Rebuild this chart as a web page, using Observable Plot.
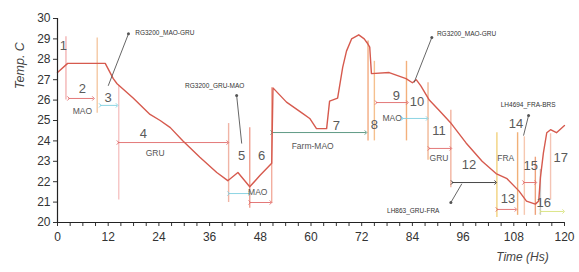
<!DOCTYPE html>
<html><head><meta charset="utf-8">
<script src="https://cdn.jsdelivr.net/npm/d3@7"></script>
<script src="https://cdn.jsdelivr.net/npm/@observablehq/plot@0.6"></script>
<style>body{margin:0;background:#fff} svg{display:block}</style>
</head><body><div id="chart"></div>
<script>
// Temperature trace (hours, °C)
const timeH = [0, 2.4, 11.3, 13.2, 14.1, 17.9, 21.9, 24.3, 26.7, 29.7, 33.7, 37.7, 40.3, 42.7, 45.5, 47.9, 50.7, 51.0, 54.2, 58, 59.7, 61.3, 63.7, 64.4, 66.3, 67.5, 68.4, 69.6, 71.3, 72.6, 73.3, 73.9, 74.3, 78.5, 82.5, 84, 84.9, 86, 88, 90.3, 93.2, 96.7, 100.5, 103.8, 106.4, 109.2, 111, 113.1, 113.9, 114.3, 115, 115.8, 116.7, 118.1, 120];
const tempC = [27.35, 27.8, 27.8, 27.05, 26.8, 26.1, 25.3, 25.0, 24.65, 24.0, 23.2, 22.45, 22.05, 22.45, 21.75, 22.3, 22.9, 26.6, 25.9, 25.35, 25.1, 24.6, 24.6, 25.95, 26.1, 27.6, 28.4, 29.0, 29.2, 29.0, 28.8, 28.6, 27.3, 27.35, 27.05, 26.85, 27.0, 26.7, 26.0, 25.5, 24.85, 23.9, 23.0, 22.4, 22.15, 21.55, 21.05, 20.9, 21.05, 22.2, 23.4, 24.4, 24.55, 24.4, 24.75];

// Segment boundaries (hours) and their vertical extent (°C)
const boundT   = [2.0, 9.4, 14.5, 40.5, 45.5, 50.7, 73.5, 75.0, 82.6, 87.7, 93.1, 104.0, 108.9, 110.5, 113.1, 114.3, 116.7];
const boundTop = [29.1, 29.05, 26.7, 24.85, 24.65, 26.6, 28.9, 27.9, 27.9, 26.85, 25.5, 24.4, 24.4, 24.2, 23.2, 22.6, 24.35];
const boundBot = [26.0, 25.35, 21.1, 20.98, 20.7, 20.93, 24.0, 24.0, 24.0, 23.05, 21.7, 20.25, 20.35, 20.35, 20.35, 20.35, 21.1];

// Segment numbers
const segLabel = ["1","2","3","4","5","6","7","8","9","10","11","12","13","14","15","16","17"];
const segT     = [1.4, 5.9, 12.0, 20.3, 43.6, 48.3, 66.0, 75.0, 80.2, 85.1, 90.3, 97.4, 106.6, 108.5, 112.0, 115.1, 119.1];
const segY     = [28.68, 26.57, 26.13, 24.36, 23.28, 23.28, 24.75, 24.8, 26.23, 25.93, 24.5, 22.84, 21.18, 24.85, 22.8, 20.98, 23.19];

// Location tags
const tagText = ["MAO", "GRU", "MAO", "Farm-MAO", "MAO", "GRU", "FRA"];
const tagT    = [5.9, 23.1, 47.4, 60.4, 79.2, 90.3, 106.1];
const tagY    = [25.44, 23.38, 21.47, 23.73, 25.1, 23.14, 23.14];

// Duration arrows
const arrowT1 = [2.6, 10.1, 14.3, 40.5, 45.5, 50.7, 75.4, 81.6, 87.9, 93.4, 104.0, 110.3, 114.3];
const arrowT2 = [8.5, 14.1, 40.3, 45.5, 50.5, 73.0, 82.8, 87.5, 93.1, 103.7, 108.5, 113.2, 119.8];
const arrowY  = [26.08, 25.74, 23.92, 21.42, 20.98, 24.41, 25.88, 25.1, 23.63, 21.96, 20.64, 21.96, 20.54];
const arrowKind = ["r","c","r","c","r","g","r","c","r","k","r","r","y"];

// Flight annotations
const flightText = ["RG3200_MAO-GRU", "RG3200_GRU-MAO", "RG3200_MAO-GRU", "LH863_GRU-FRA", "LH4694_FRA-BRS"];
const flightTextT = [18.4, 30.2, 89.8, 78.0, 104.9];
const flightTextY = [29.3, 26.72, 29.26, 20.59, 25.74];
const leadT1 = [16.8, 42.4, 88.6, 93.1, 111.5];
const leadY1 = [29.25, 26.23, 29.07, 20.98, 25.25];
const leadT2 = [12.0, 43.6, 84.4, 95.7, 110.3];
const leadY2 = [26.7, 23.87, 26.86, 21.9, 24.26];

// ---------- build tables ----------
const trace = timeH.map((t, i) => ({t, v: tempC[i]}));
const bounds = boundT.map((t, i) => ({t, y1: boundBot[i], y2: boundTop[i], i}));
const segs = segLabel.map((s, i) => ({s, t: segT[i], v: segY[i]}));
const tags = tagText.map((s, i) => ({s, t: tagT[i], v: tagY[i]}));
const arrows = arrowT1.map((t1, i) => ({t1, t2: arrowT2[i], v: arrowY[i], k: arrowKind[i]}));
const flights = flightText.map((s, i) => ({s, t: flightTextT[i], v: flightTextY[i], t1: leadT1[i], v1: leadY1[i], t2: leadT2[i], v2: leadY2[i]}));

const boundColors = ["#f3b4b4","#f4c9a4","#f6c4c4","#f0b4a6","#ef9f90","#f2ae9f","#f3ab80","#f5c08e","#f3b07c","#f1b896","#f2b4a0","#f2d27e","#f1b078","#f6c8b0","#eea27c","#c9c9c9","#f4c4b4"];
const arrowColors = {r: "#e06a6a", c: "#7fcfe0", g: "#4f8f78", k: "#333333", y: "#d8e27c"};

const xTicks = d3.range(0, 121, 3);

const chart = Plot.plot({
  width: 579,
  height: 272,
  marginLeft: 57,
  marginRight: 15,
  marginTop: 18,
  marginBottom: 50,
  style: {fontFamily: "Liberation Sans, Arial, sans-serif", background: "#fff", color: "#333"},
  x: {domain: [0, 120]},
  y: {domain: [20, 30]},
  marks: [
    Plot.ruleX(bounds, {x: "t", y1: "y1", y2: "y2", stroke: d => boundColors[d.i], strokeWidth: 1.4}),
    Plot.link(arrows, {x1: "t1", x2: "t2", y1: "v", y2: "v", stroke: d => arrowColors[d.k], strokeWidth: 0.9, markerStart: "arrow", markerEnd: "arrow"}),
    Plot.line(trace, {x: "t", y: "v", stroke: "#d65a4e", strokeWidth: 1.4}),
    Plot.link(flights, {x1: "t1", y1: "v1", x2: "t2", y2: "v2", stroke: "#555", strokeWidth: 0.9, markerStart: "dot"}),
    Plot.text(flights, {x: "t", y: "v", text: "s", textAnchor: "start", fontSize: 6.5, fill: "#333"}),
    Plot.text(segs, {x: "t", y: "v", text: "s", fontSize: 13, fill: "#5a5a5a"}),
    Plot.text(tags, {x: "t", y: "v", text: "s", fontSize: 8.5, fill: "#555"}),
    Plot.axisY({ticks: d3.range(20, 31, 1), tickSize: 4, tickPadding: 3, fontSize: 12, label: null}),
    Plot.axisX({ticks: xTicks, tickFormat: d => d % 12 === 0 ? d : "", tickSize: 4, tickPadding: 6, fontSize: 12, label: null}),
    Plot.ruleX([0], {stroke: "#222", strokeWidth: 1.2}),
    Plot.ruleY([20], {stroke: "#222", strokeWidth: 1.2}),
    Plot.text(["Temp. C"], {frameAnchor: "top-left", dx: -42, dy: 47, rotate: -90, textAnchor: "middle", fontSize: 12.5, fontStyle: "italic", fill: "#444"}),
    Plot.text(["Time (Hs)"], {frameAnchor: "bottom-right", dx: -42, dy: 38, textAnchor: "middle", fontSize: 12, fontStyle: "italic", fill: "#444"})
  ]
});
document.getElementById("chart").append(chart);
</script></body></html>
